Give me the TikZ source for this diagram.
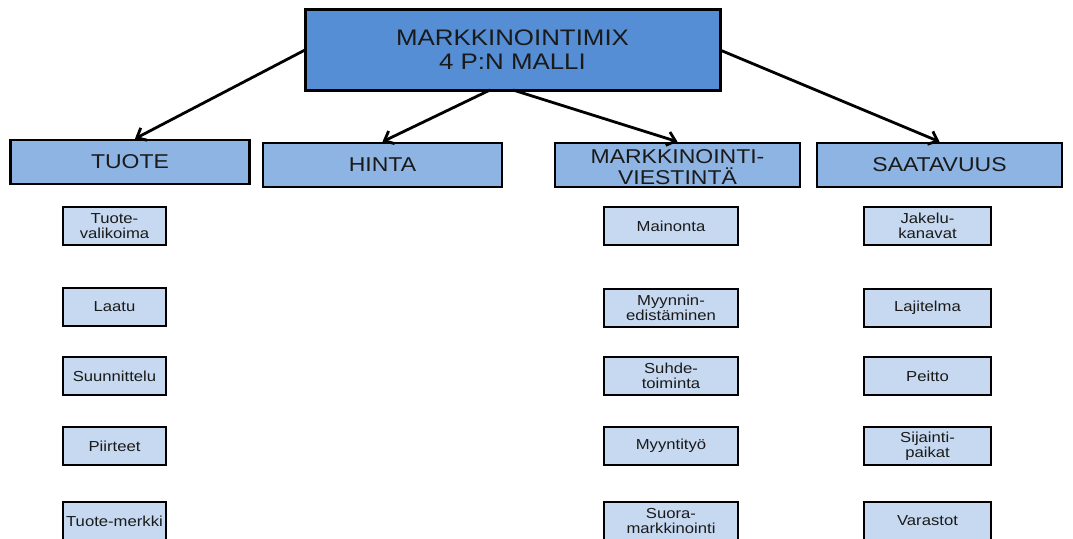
\documentclass[tikz,border=0pt]{standalone}
\usepackage{fontspec}
\setmainfont{Liberation Sans}[FakeStretch=1.15]
\usetikzlibrary{arrows.meta}
\definecolor{topblue}{HTML}{558ED5}
\definecolor{catblue}{HTML}{8EB4E3}
\definecolor{itemblue}{HTML}{C6D9F1}
\definecolor{ink}{HTML}{1A1A1A}
\tikzset{
  base/.style={draw=black, rectangle, inner sep=0pt, align=center, text=ink},
  topbox/.style={base, fill=topblue, line width=3pt, minimum width=415pt, minimum height=81pt,
    font=\fontsize{22.5}{24}\selectfont},
  catbox/.style={base, fill=catblue, line width=2.6pt, minimum width=239pt, minimum height=44pt,
    font=\fontsize{20}{20.5}\selectfont},
  item/.style={base, fill=itemblue, line width=2.4pt, minimum height=38pt,
    font=\fontsize{14.5}{15}\selectfont},
  colA/.style={item, minimum width=103pt},
  colC/.style={item, minimum width=134pt},
  colD/.style={item, minimum width=127pt},
  link/.style={line width=2.8pt, -{Straight Barb[length=8pt,width=14pt,line width=2.8pt]}}
}
\begin{document}
\begin{tikzpicture}[x=1pt,y=-1pt]
\useasboundingbox (0,0) rectangle (1073,538);

% main heading
\node[topbox] (mix) at (512.5,49.5) {MARKKINOINTIMIX\\4 P:N MALLI};

% the four P categories
\node[catbox] (tuote) at (130,162) {TUOTE};
\node[catbox] (hinta) at (382.5,165) {HINTA};
\node[catbox, minimum width=245pt] (viest) at (677.5,165) {};
\node[font=\fontsize{20}{20.5}\selectfont, align=center, text=ink, inner sep=0pt]
  (viestT) at (677.5,167) {MARKKINOINTI-\\VIESTINTÄ};
\node[catbox, minimum width=245pt] (saat) at (939.5,165) {SAATAVUUS};

% arrows from the heading
\coordinate (mixL) at (305,50);
\coordinate (mixR) at (720,50);
\coordinate (mixB1) at (490,90);
\coordinate (mixB2) at (513,90);
\draw[link] (mixL) -- (tuote.north -| 135,0);
\draw[link] (mixB1) -- (hinta.north);
\draw[link] (mixB2) -- (viest.north);
\draw[link] (mixR) -- (saat.north);

% product items
\node[colA] (a1) at (114.5,226) {Tuote-\\valikoima};
\node[colA] (a2) at (114.5,307) {Laatu};
\node[colA] (a3) at (114.5,376) {Suunnittelu};
\node[colA] (a4) at (114.5,446) {Piirteet};
\node[colA] (a5) at (114.5,521) {Tuote-merkki};

% promotion items
\node[colC] (c1) at (671,226) {Mainonta};
\node[colC] (c2) at (671,308) {Myynnin-\\edistäminen};
\node[colC] (c3) at (671,376) {Suhde-\\toiminta};
\node[colC] (c4) at (671,446) {Myyntityö};
\node[colC] (c5) at (671,521) {Suora-\\markkinointi};

% distribution items
\node[colD] (d1) at (927.5,226) {Jakelu-\\kanavat};
\node[colD] (d2) at (927.5,308) {Lajitelma};
\node[colD] (d3) at (927.5,376) {Peitto};
\node[colD] (d4) at (927.5,446) {Sijainti-\\paikat};
\node[colD] (d5) at (927.5,521) {Varastot};
\end{tikzpicture}
\end{document}
